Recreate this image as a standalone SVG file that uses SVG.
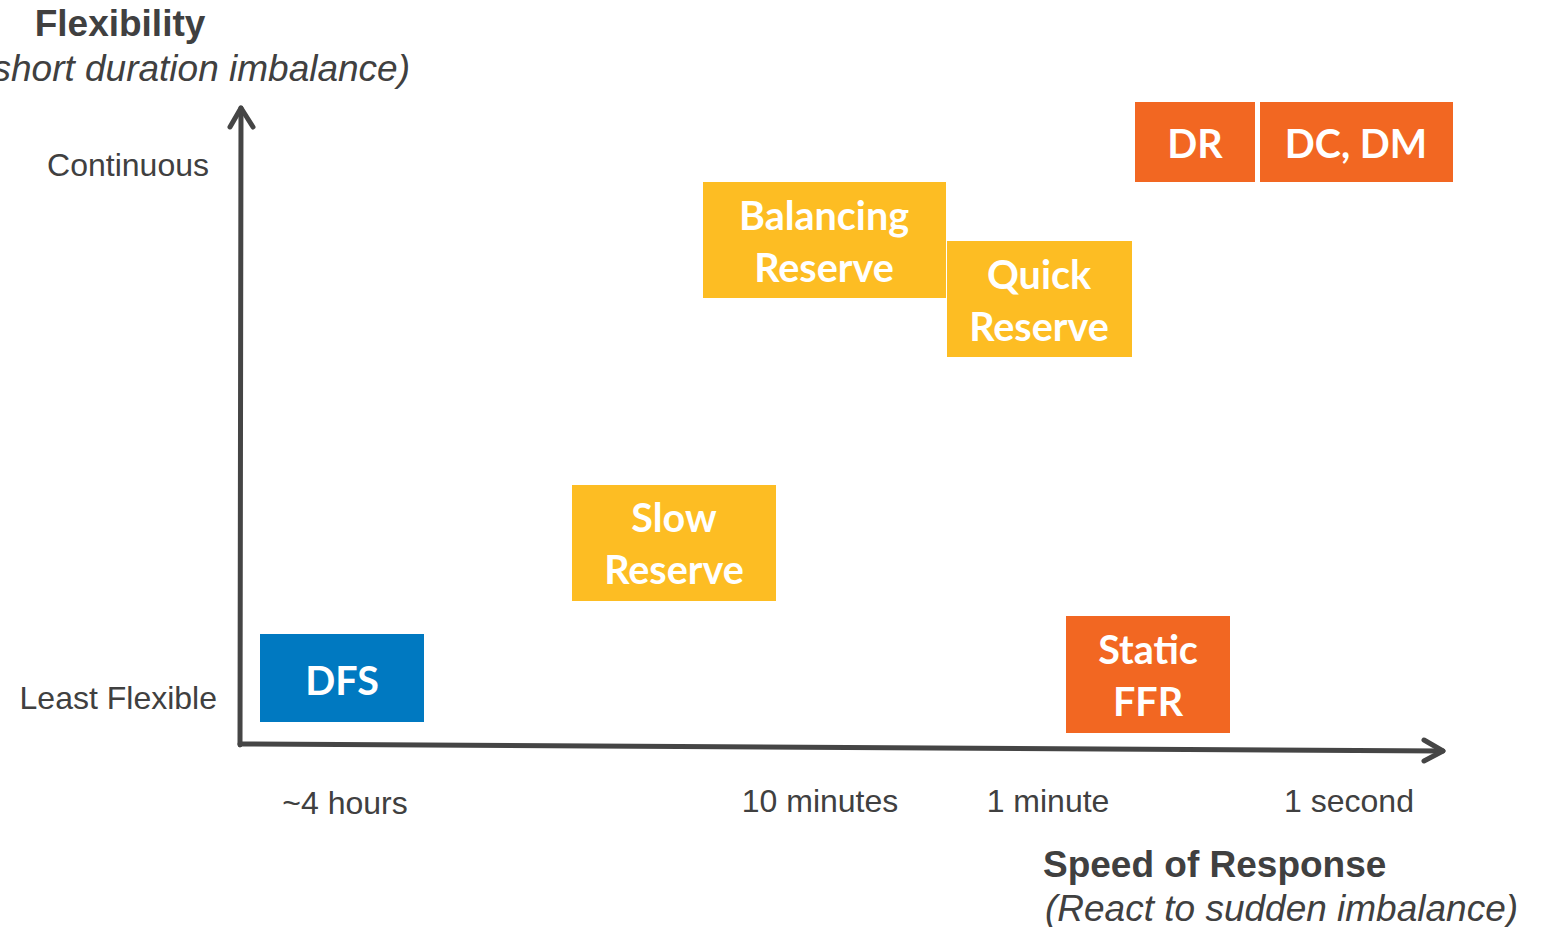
<svg xmlns="http://www.w3.org/2000/svg" width="1547" height="927" viewBox="0 0 1547 927">
  <style>
    .axis { stroke: #454545; stroke-width: 5; fill: none; stroke-linecap: round; stroke-linejoin: round; }
    .lbl { font-family: "Liberation Sans", Arial, sans-serif; font-size: 32px; fill: #404040; }
    .title { font-family: "Liberation Sans", Arial, sans-serif; font-size: 37px; font-weight: bold; fill: #404040; }
    .sub { font-family: "Liberation Sans", Arial, sans-serif; font-size: 37px; font-style: italic; fill: #404040; }
    .box { font-family: Lato, "Open Sans", sans-serif; font-size: 39.5px; font-weight: bold; fill: #ffffff; text-anchor: middle; }
    .blue { fill: #0079C1; }
    .yellow { fill: #FDBD23; }
    .orange { fill: #F26722; }
  </style>
  <rect width="1547" height="927" fill="#ffffff"/>

  <!-- axes -->
  <g id="connectors">
    <path class="axis" d="M240 745 L241 108"/>
    <path class="axis" d="M230 127 L241 108 L253 127"/>
    <path class="axis" d="M240 744 L1443 751"/>
    <path class="axis" d="M1424 740 L1443 751 L1424 761"/>
  </g>

  <!-- axis titles -->
  <text class="title" x="120" y="36" text-anchor="middle">Flexibility</text>
  <text class="sub" x="410" y="81" text-anchor="end">(short duration imbalance)</text>
  <text class="lbl" x="209" y="176" text-anchor="end">Continuous</text>
  <text class="lbl" x="217" y="709" text-anchor="end">Least Flexible</text>

  <text class="lbl" x="345" y="814" text-anchor="middle">~4 hours</text>
  <text class="lbl" x="820" y="812" text-anchor="middle">10 minutes</text>
  <text class="lbl" x="1048" y="812" text-anchor="middle">1 minute</text>
  <text class="lbl" x="1349" y="812" text-anchor="middle">1 second</text>

  <text class="title" x="1043" y="877">Speed of Response</text>
  <text class="sub" x="1045" y="921">(React to sudden imbalance)</text>

  <!-- services -->
  <g id="dfs">
    <rect class="blue" x="260" y="634" width="164" height="88"/>
    <text class="box" x="342" y="695">DFS</text>
  </g>
  <g id="slow-reserve">
    <rect class="yellow" x="572" y="485" width="204" height="116"/>
    <text class="box" x="674" y="532">Slow</text>
    <text class="box" x="674" y="584">Reserve</text>
  </g>
  <g id="balancing-reserve">
    <rect class="yellow" x="703" y="182" width="243" height="116"/>
    <text class="box" x="824" y="230">Balancing</text>
    <text class="box" x="824" y="282">Reserve</text>
  </g>
  <g id="quick-reserve">
    <rect class="yellow" x="947" y="241" width="185" height="116"/>
    <text class="box" x="1039" y="289">Quick</text>
    <text class="box" x="1039" y="341">Reserve</text>
  </g>
  <g id="dr">
    <rect class="orange" x="1135" y="102" width="120" height="80"/>
    <text class="box" x="1195" y="158">DR</text>
  </g>
  <g id="dc-dm">
    <rect class="orange" x="1260" y="102" width="193" height="80"/>
    <text class="box" x="1356" y="158">DC, DM</text>
  </g>
  <g id="static-ffr">
    <rect class="orange" x="1066" y="616" width="164" height="117"/>
    <text class="box" x="1148" y="664">Static</text>
    <text class="box" x="1148" y="716">FFR</text>
  </g>
</svg>
